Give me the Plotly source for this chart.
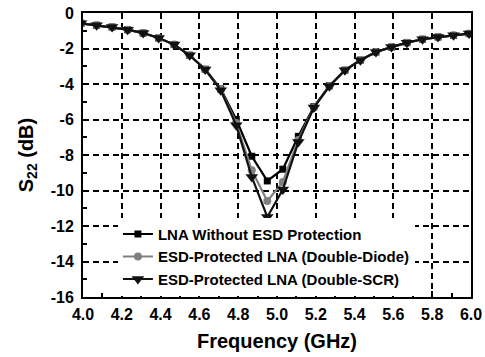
import plotly.graph_objects as go

freq = [3.99, 4.07, 4.15, 4.23, 4.31, 4.39, 4.47, 4.55, 4.63, 4.71, 4.79, 4.87, 4.95,
        5.03, 5.11, 5.19, 5.27, 5.35, 5.43, 5.51, 5.59, 5.67, 5.75, 5.83, 5.91, 5.99]

s22_no_esd = [-0.58, -0.69, -0.79, -0.94, -1.13, -1.41, -1.78, -2.38, -3.17, -4.28,
              -6.0, -8.07, -9.46, -8.8, -6.95, -5.28, -4.1, -3.22, -2.65, -2.2,
              -1.92, -1.67, -1.48, -1.35, -1.26, -1.16]
s22_diode = [-0.58, -0.69, -0.79, -0.94, -1.13, -1.41, -1.78, -2.38, -3.19, -4.33,
             -6.2, -8.86, -10.59, -9.52, -7.15, -5.32, -4.12, -3.23, -2.66, -2.2,
             -1.92, -1.67, -1.48, -1.35, -1.26, -1.16]
s22_scr = [-0.58, -0.69, -0.79, -0.94, -1.13, -1.41, -1.78, -2.38, -3.19, -4.35,
           -6.33, -9.24, -11.49, -9.95, -7.27, -5.33, -4.13, -3.23, -2.66, -2.2,
           -1.92, -1.67, -1.48, -1.35, -1.26, -1.16]

names = ["LNA Without ESD Protection",
         "ESD-Protected LNA (Double-Diode)",
         "ESD-Protected LNA (Double-SCR)"]

x_ticks = [4.0, 4.2, 4.4, 4.6, 4.8, 5.0, 5.2, 5.4, 5.6, 5.8, 6.0]
y_ticks = [0, -2, -4, -6, -8, -10, -12, -14, -16]

FONT = "Liberation Sans, Arial, sans-serif"

fig = go.Figure()
fig.add_trace(go.Scatter(x=freq, y=s22_no_esd, name=names[0], mode="lines+markers",
                         line=dict(color="#000000", width=2.2),
                         marker=dict(symbol="square", size=7, color="#000000")))
fig.add_trace(go.Scatter(x=freq, y=s22_diode, name=names[1], mode="lines+markers",
                         line=dict(color="#808080", width=2.2),
                         marker=dict(symbol="circle", size=8, color="#808080")))
fig.add_trace(go.Scatter(x=freq, y=s22_scr, name=names[2], mode="lines+markers",
                         line=dict(color="#111111", width=2.2),
                         marker=dict(symbol="triangle-down", size=11, color="#111111")))

axis_common = dict(
    showline=True, linecolor="black", linewidth=2, mirror=True,
    ticks="inside", ticklen=6, tickwidth=2, tickcolor="black",
    showgrid=True, gridcolor="black", gridwidth=1.5, griddash="6px,4px",
    zeroline=False, automargin=False, ticklabeloverflow="allow",
    tickfont=dict(family=FONT, size=16, color="black", weight="bold"),
)

fig.update_xaxes(**axis_common, range=[4.0, 6.0], tickvals=x_ticks,
                 ticktext=[f"{v:.1f}" for v in x_ticks],
                 ticklabelstandoff=2,
                 minor=dict(dtick=0.1, tick0=4.0, ticks="inside", ticklen=4,
                            tickwidth=2, tickcolor="black", showgrid=False),
                 title=dict(text="Frequency (GHz)", standoff=12,
                            font=dict(family=FONT, size=20, color="black", weight="bold")))
fig.update_yaxes(**axis_common, range=[-16, 0], tickvals=y_ticks,
                 ticktext=[str(v) for v in y_ticks],
                 ticklabelstandoff=4,
                 minor=dict(dtick=1, tick0=0, ticks="inside", ticklen=4,
                            tickwidth=2, tickcolor="black", showgrid=False),
                 title=dict(text="S<sub>22</sub> (dB)", standoff=12,
                            font=dict(family=FONT, size=20, color="black", weight="bold")))

fig.update_layout(
    width=485, height=357,
    margin=dict(l=83, r=14, t=13, b=60),
    paper_bgcolor="white", plot_bgcolor="white",
    showlegend=True,
    legend=dict(x=0.09, y=0.279, xanchor="left", yanchor="top",
                bgcolor="white", borderwidth=0, tracegroupgap=0,
                font=dict(family=FONT, size=15, color="black", weight="bold"),
                itemwidth=30),
)

fig.write_html("out.html", config={"displayModeBar": False},
               post_script="document.body.style.margin='0';")
